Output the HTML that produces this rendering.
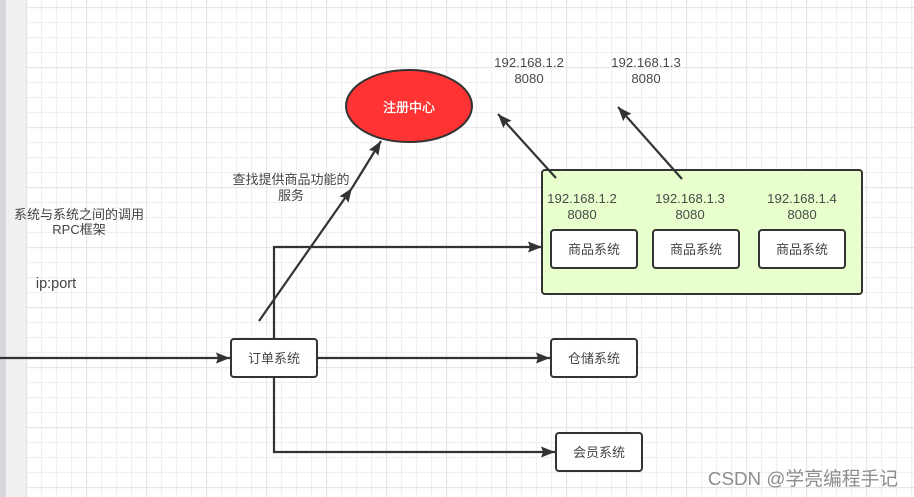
<!DOCTYPE html>
<html>
<head>
<meta charset="utf-8">
<style>
html,body{margin:0;padding:0;background:#fff;}
body{width:914px;height:497px;overflow:hidden;position:relative;}
svg{position:absolute;left:0;top:0;display:block;}
text{font-family:"Liberation Sans","Noto Sans CJK SC",sans-serif;font-size:13px;fill:#444;text-anchor:middle;}
.n{font-size:13.2px;fill:#4a4a4a;}
</style>
</head>
<body>
<svg width="914" height="497" viewBox="0 0 914 497" xmlns="http://www.w3.org/2000/svg">
<defs>
<pattern id="minor" x="26" y="7" width="15" height="15" patternUnits="userSpaceOnUse">
<path d="M0.5 0V15M0 0.5H15" stroke="#f0f0f0" stroke-width="1.3" fill="none"/>
</pattern>
<pattern id="major" x="26" y="7" width="60" height="60" patternUnits="userSpaceOnUse">
<path d="M0.5 0V60M0 0.5H60" stroke="#e6e6e6" stroke-width="1.3" fill="none"/>
</pattern>
<marker id="a" markerUnits="userSpaceOnUse" markerWidth="16" markerHeight="12" refX="14" refY="6" orient="auto">
<path d="M0 0.5L14 6L0 11.5L2 6Z" fill="#333"/>
</marker>
</defs>
<rect width="914" height="497" fill="#fff"/>
<rect x="26" y="0" width="888" height="497" fill="url(#minor)"/>
<rect x="26" y="0" width="888" height="497" fill="url(#major)"/>
<rect x="0" y="0" width="6" height="497" fill="#d6d7dc"/>
<rect x="6" y="0" width="20" height="497" fill="#f0f0f0"/>
<rect x="26" y="0" width="1" height="497" fill="#e4e4e4"/>

<!-- green container -->
<rect x="542" y="170" width="320" height="124" rx="3" fill="#e6ffcc" stroke="#333" stroke-width="2"/>

<!-- connectors -->
<g fill="none" stroke="#333" stroke-width="2.2">
<path d="M0 358H230" marker-end="url(#a)"/>
<path d="M274 339V247H542" marker-end="url(#a)"/>
<path d="M317 358H550" marker-end="url(#a)"/>
<path d="M274 377V452H555" marker-end="url(#a)"/>
<path d="M259 321L352 188" marker-end="url(#a)"/>
<path d="M352 188L381 141" marker-end="url(#a)"/>
<path d="M556 178L498 114" marker-end="url(#a)"/>
<path d="M682 179L618 107" marker-end="url(#a)"/>
</g>

<!-- boxes -->
<g fill="#fff" stroke="#333" stroke-width="2">
<rect x="551" y="230" width="86" height="38" rx="3"/>
<rect x="653" y="230" width="86" height="38" rx="3"/>
<rect x="759" y="230" width="86" height="38" rx="3"/>
<rect x="231" y="339" width="86" height="38" rx="3"/>
<rect x="551" y="339" width="86" height="38" rx="3"/>
<rect x="556" y="433" width="86" height="38" rx="3"/>
</g>
<ellipse cx="409" cy="106" rx="63" ry="36" fill="#ff3333" stroke="#333" stroke-width="2"/>

<!-- labels -->
<text x="409" y="112" style="fill:#fff;stroke:#fff;stroke-width:0.3">注册中心</text>
<text x="594" y="254">商品系统</text>
<text x="696" y="254">商品系统</text>
<text x="802" y="254">商品系统</text>
<text x="274" y="363">订单系统</text>
<text x="594" y="363">仓储系统</text>
<text x="599" y="457">会员系统</text>

<text class="n" x="582" y="203">192.168.1.2</text>
<text class="n" x="582" y="219">8080</text>
<text class="n" x="690" y="203">192.168.1.3</text>
<text class="n" x="690" y="219">8080</text>
<text class="n" x="802" y="203">192.168.1.4</text>
<text class="n" x="802" y="219">8080</text>
<text class="n" x="529" y="67">192.168.1.2</text>
<text class="n" x="529" y="83">8080</text>
<text class="n" x="646" y="67">192.168.1.3</text>
<text class="n" x="646" y="83">8080</text>

<text x="291" y="184">查找提供商品功能的</text>
<text x="291" y="200">服务</text>
<text x="79" y="219">系统与系统之间的调用</text>
<text x="79" y="234">RPC框架</text>
<text x="56" y="288" style="font-size:14.5px">ip:port</text>
<text x="803" y="485" style="font-size:18.8px;fill:#8d8d8d">CSDN @学亮编程手记</text>
</svg>
</body>
</html>
